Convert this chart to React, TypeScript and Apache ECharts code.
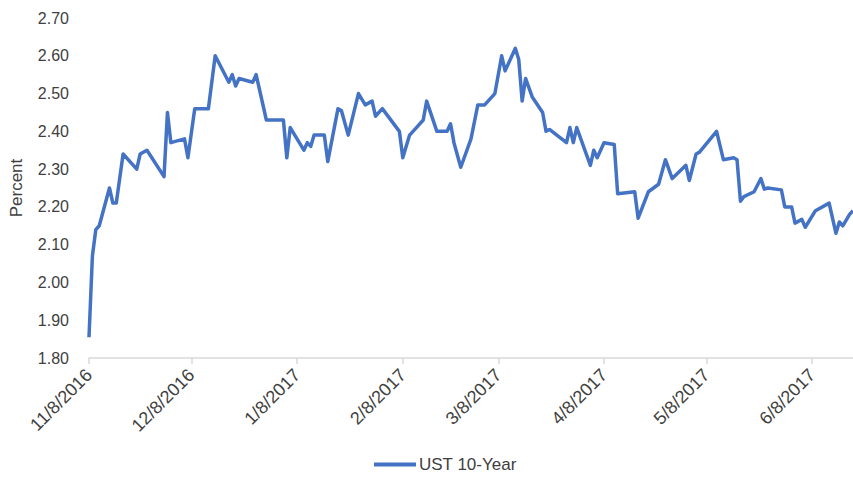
import React, { useEffect, useRef } from "react";
import * as echarts from "echarts";

const seriesName = "UST 10-Year";

const dates: string[] = [
  "2016-11-08", "2016-11-09", "2016-11-10", "2016-11-11", "2016-11-14", "2016-11-15", "2016-11-16",
  "2016-11-18", "2016-11-22", "2016-11-23", "2016-11-25", "2016-11-30", "2016-12-01", "2016-12-02",
  "2016-12-06", "2016-12-07", "2016-12-09", "2016-12-13", "2016-12-15", "2016-12-19", "2016-12-20",
  "2016-12-21", "2016-12-22", "2016-12-26", "2016-12-27", "2016-12-30", "2017-01-04", "2017-01-05",
  "2017-01-06", "2017-01-10", "2017-01-11", "2017-01-12", "2017-01-13", "2017-01-16", "2017-01-17",
  "2017-01-20", "2017-01-21", "2017-01-23", "2017-01-26", "2017-01-28", "2017-01-30", "2017-01-31",
  "2017-02-02", "2017-02-07", "2017-02-08", "2017-02-10", "2017-02-12", "2017-02-14", "2017-02-15",
  "2017-02-18", "2017-02-21", "2017-02-22", "2017-02-23", "2017-02-25", "2017-02-28", "2017-03-02",
  "2017-03-04", "2017-03-07", "2017-03-09", "2017-03-10", "2017-03-13", "2017-03-14", "2017-03-15",
  "2017-03-16", "2017-03-18", "2017-03-21", "2017-03-22", "2017-03-23", "2017-03-28", "2017-03-29",
  "2017-03-30", "2017-03-31", "2017-04-04", "2017-04-05", "2017-04-06", "2017-04-08", "2017-04-11",
  "2017-04-12", "2017-04-17", "2017-04-18", "2017-04-21", "2017-04-24", "2017-04-26", "2017-04-28",
  "2017-05-02", "2017-05-03", "2017-05-05", "2017-05-06", "2017-05-11", "2017-05-13", "2017-05-16",
  "2017-05-17", "2017-05-18", "2017-05-19", "2017-05-22", "2017-05-24", "2017-05-25", "2017-05-26",
  "2017-05-30", "2017-05-31", "2017-06-02", "2017-06-03", "2017-06-05", "2017-06-06", "2017-06-09",
  "2017-06-13", "2017-06-15", "2017-06-16", "2017-06-17", "2017-06-19", "2017-06-20",
];

const yields: number[] = [
  1.855, 2.07, 2.14, 2.15, 2.25, 2.21, 2.21,
  2.34, 2.30, 2.34, 2.35, 2.28, 2.45, 2.37,
  2.38, 2.33, 2.46, 2.46, 2.60, 2.53, 2.55,
  2.52, 2.54, 2.53, 2.55, 2.43, 2.43, 2.33,
  2.41, 2.35, 2.37, 2.36, 2.39, 2.39, 2.32,
  2.46, 2.455, 2.39, 2.50, 2.47, 2.48, 2.44,
  2.46, 2.40, 2.33, 2.39, 2.41, 2.43, 2.48,
  2.40, 2.40, 2.42, 2.37, 2.305, 2.38, 2.47,
  2.47, 2.50, 2.60, 2.56, 2.62, 2.59, 2.48,
  2.54, 2.49, 2.45, 2.40, 2.405, 2.37, 2.41,
  2.37, 2.41, 2.31, 2.35, 2.33, 2.37, 2.365,
  2.235, 2.24, 2.17, 2.24, 2.26, 2.325, 2.275,
  2.31, 2.27, 2.34, 2.345, 2.40, 2.325, 2.33,
  2.325, 2.215, 2.227, 2.24, 2.275, 2.247, 2.25,
  2.245, 2.20, 2.20, 2.157, 2.167, 2.146, 2.19,
  2.21, 2.13, 2.16, 2.15, 2.18, 2.19,
];

const tickDates: string[] = [
  "2016-11-08", "2016-12-08", "2017-01-08", "2017-02-08",
  "2017-03-08", "2017-04-08", "2017-05-08", "2017-06-08",
];

const axisStart = "2016-11-08";
const axisEnd = "2017-06-20";

function toTs(s: string): number {
  const [y, m, d] = s.split("-").map(Number);
  return new Date(y, m - 1, d).getTime();
}

export default function App() {
  const ref = useRef<HTMLDivElement>(null);

  useEffect(() => {
    if (!ref.current) return;
    const chart = echarts.init(ref.current, undefined, { renderer: "svg" });
    const data = dates.map((d, i) => [toTs(d), yields[i]]);
    const ticks = tickDates.map(toTs);
    const font = "Liberation Sans";
    chart.setOption({
      animation: false,
      grid: { left: 87, right: 0, top: 18, bottom: 125, containLabel: false },
      legend: {
        show: true,
        data: [seriesName],
        top: 451,
        left: 369,
        icon: "rect",
        itemWidth: 42,
        itemHeight: 4,
        itemGap: 4,
        textStyle: { color: "#404040", fontSize: 17, fontFamily: font, padding: [0, 0, 0, -2] },
      },
      xAxis: {
        type: "value",
        min: toTs(axisStart),
        max: toTs(axisEnd),
        scale: true,
        axisLine: { show: true, lineStyle: { color: "#d9d9d9", width: 1.5 } },
        axisTick: {
          show: true,
          customValues: ticks,
          length: 6,
          lineStyle: { color: "#d9d9d9", width: 1.5 },
        },
        splitLine: { show: false },
        axisLabel: {
          customValues: ticks,
          rotate: 45,
          margin: 14,
          color: "#404040",
          fontSize: 18,
          fontFamily: font,
          showMinLabel: true,
          showMaxLabel: true,
          formatter: (v: number) => {
            const d = new Date(v);
            return `${d.getMonth() + 1}/${d.getDate()}/${d.getFullYear()}`;
          },
        },
      },
      yAxis: {
        type: "value",
        min: 1.8,
        max: 2.7,
        interval: 0.1,
        name: "Percent",
        nameLocation: "middle",
        nameGap: 64,
        nameTextStyle: { color: "#404040", fontSize: 17, fontFamily: font },
        axisLine: { show: false },
        axisTick: { show: false },
        splitLine: { show: false },
        axisLabel: {
          margin: 20,
          color: "#404040",
          fontSize: 16,
          fontFamily: font,
          formatter: (v: number) => v.toFixed(2),
        },
      },
      series: [
        {
          name: seriesName,
          type: "line",
          data,
          showSymbol: false,
          symbol: "none",
          lineStyle: { color: "#4472C4", width: 3.5, join: "round" },
          itemStyle: { color: "#4472C4" },
        },
      ],
    });
    return () => chart.dispose();
  }, []);

  return (
    <div
      ref={ref}
      style={{ position: "absolute", left: 0, top: 0, width: 853, height: 483 }}
    />
  );
}
